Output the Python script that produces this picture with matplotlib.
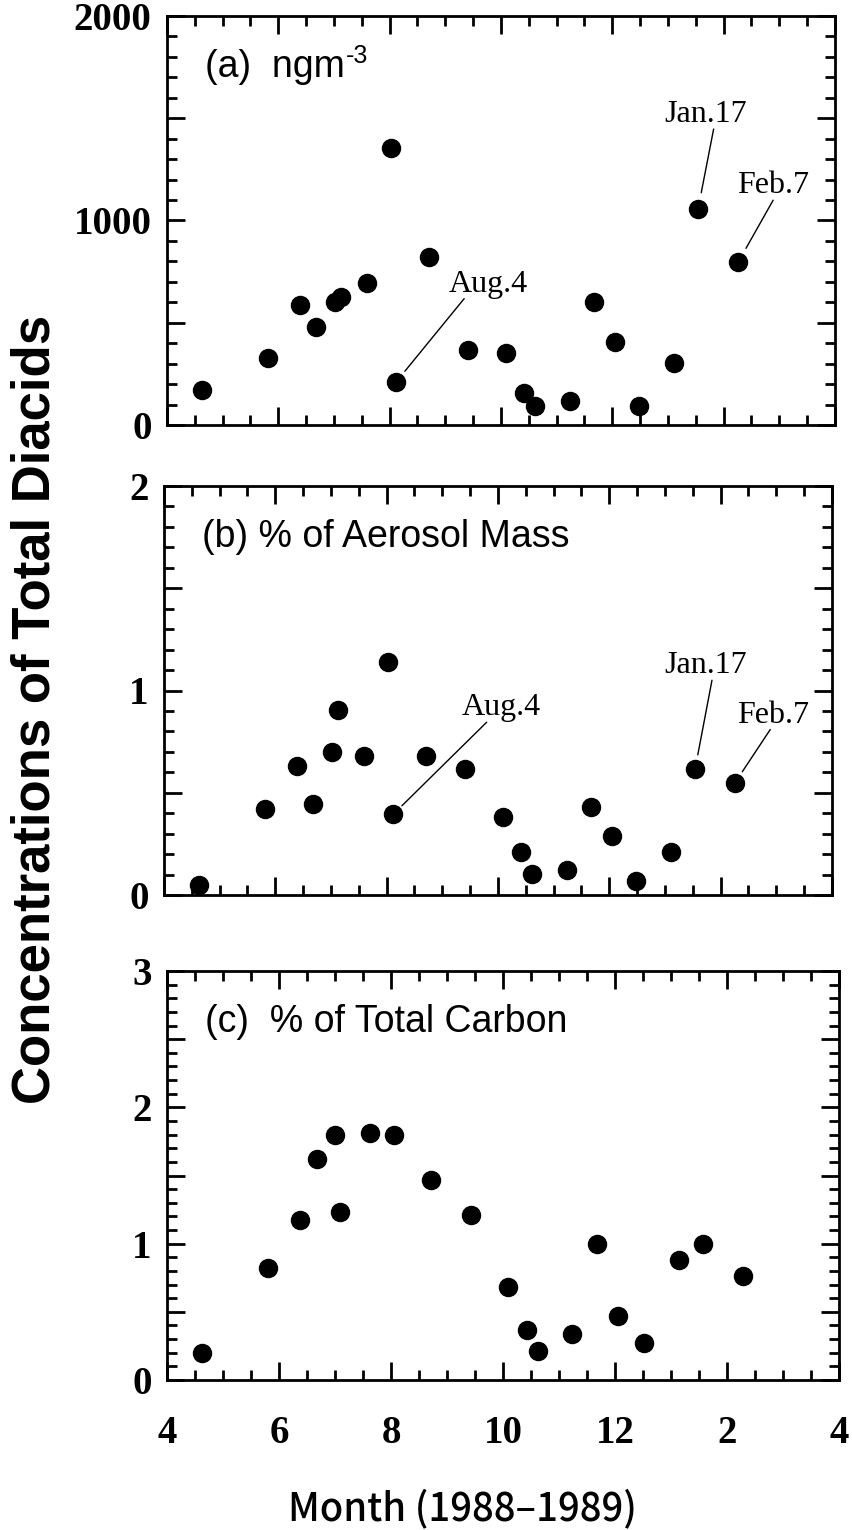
import matplotlib
matplotlib.use("Agg")
import matplotlib.pyplot as plt
from matplotlib.ticker import MultipleLocator, FixedLocator, FuncFormatter

# sampling dates as decimal month (13 = Jan 1989, 14 = Feb 1989)
months_ab = [4.62, 5.82, 6.39, 6.68, 7.02, 7.12, 7.60, 8.02, 8.12, 8.70, 9.41,
             10.09, 10.42, 10.61, 11.24, 11.67, 12.05, 12.48, 13.11, 13.54, 14.26]
total_ngm3 = [171, 326, 587, 481, 603, 627, 693, 1356, 212, 823, 367,
              354, 155, 93, 119, 600, 404, 93, 302, 1056, 796]
pct_aerosol = [0.05, 0.42, 0.63, 0.445, 0.70, 0.905, 0.68, 1.14, 0.395, 0.68, 0.615,
               0.383, 0.21, 0.105, 0.12, 0.43, 0.29, 0.07, 0.21, 0.615, 0.55]

months_c = [4.62, 5.81, 6.38, 6.67, 7.00, 7.09, 7.62, 8.05, 8.71, 9.43,
            10.09, 10.43, 10.62, 11.24, 11.67, 12.05, 12.52, 13.14, 13.57, 14.29]
pct_carbon = [0.195, 0.82, 1.17, 1.62, 1.80, 1.23, 1.815, 1.80, 1.465, 1.21,
              0.685, 0.37, 0.215, 0.335, 0.995, 0.47, 0.275, 0.88, 0.995, 0.76]

month_ticks = [4, 6, 8, 10, 12, 14, 16]
month_labels = ["4", "6", "8", "10", "12", "2", "4"]

# labelled samples: text and index into months_ab
event_names = ["Aug.4", "Jan.17", "Feb.7"]
event_index = [8, 19, 20]

plt.rcParams["font.family"] = "Liberation Serif"
plt.rcParams["font.weight"] = "bold"
plt.rcParams["font.size"] = 28

fig = plt.figure(figsize=(8.53, 15.30), dpi=100)
W, H = 853.0, 1530.0


def make_axes(left, top, right, bottom):
    # pixel box -> figure fraction
    return fig.add_axes([left / W, 1 - bottom / H, (right - left) / W, (bottom - top) / H])


def style_axes(ax, ymax, major, minor, label_step, show_x):
    ax.set_xlim(4, 16)
    ax.set_ylim(0, ymax)
    ax.xaxis.set_major_locator(FixedLocator(month_ticks))
    ax.xaxis.set_minor_locator(MultipleLocator(0.5))
    ax.yaxis.set_major_locator(MultipleLocator(major))
    ax.yaxis.set_minor_locator(MultipleLocator(minor))
    # only label whole steps (500s get a long tick but no number)
    ax.yaxis.set_major_formatter(FuncFormatter(
        lambda v, p: f"{v:g}" if abs(v / label_step - round(v / label_step)) < 1e-6 else ""))
    if show_x:
        ax.xaxis.set_major_formatter(FuncFormatter(
            lambda v, p: month_labels[month_ticks.index(int(round(v)))]))
    else:
        ax.set_xticklabels([])
    ax.tick_params(which="both", direction="in", top=True, right=True, width=2)
    ax.tick_params(which="major", length=13)
    ax.tick_params(which="minor", length=7)
    ax.tick_params(axis="y", which="major", pad=11)
    ax.tick_params(axis="x", which="major", pad=25)
    for sp in ax.spines.values():
        sp.set_linewidth(2)


def panel_label(ax, text):
    return ax.text(0.057, 0.851, text, transform=ax.transAxes, ha="left", va="baseline",
                   fontsize=27, fontweight="normal", family="Liberation Sans")


def annotate(ax, x, y, name, dx, dy, relx, shrink):
    ax.annotate(name, xy=(x, y), xytext=(dx, dy), textcoords="offset pixels",
                ha="left", va="baseline", fontsize=23, fontweight="normal",
                family="Liberation Serif",
                arrowprops=dict(arrowstyle="-", color="black", lw=1.0,
                                relpos=(relx, 0), patchA=None,
                                shrinkA=0, shrinkB=shrink))


ax_a = make_axes(167, 16, 835, 425)
ax_b = make_axes(164, 486, 832, 895)
ax_c = make_axes(167, 971, 839, 1380)

# (a) absolute concentrations
style_axes(ax_a, 2000, 500, 100, 1000, False)
ax_a.plot(months_ab, total_ngm3, "o", color="black", markersize=13, linestyle="none")
label_a = panel_label(ax_a, "(a)  ngm")
offsets_a = [(52, 90, 0.2, 9.7), (-34, 87, 0.6, 12), (-1, 69, 0.5, 11.5)]
for name, i, (dx, dy, rx, sb) in zip(event_names, event_index, offsets_a):
    annotate(ax_a, months_ab[i], total_ngm3[i], name, dx, dy, rx, sb)

# superscript "-3" right after "ngm"
fig.canvas.draw()
bb = label_a.get_window_extent()
fig.text((bb.x1 + 1) / W, (bb.y0 + bb.height * 0.62) / H, "-3", ha="left", va="baseline",
         fontsize=18, fontweight="normal", family="Liberation Sans")

# (b) fraction of aerosol mass
style_axes(ax_b, 2, 0.5, 0.1, 1, False)
ax_b.plot(months_ab, pct_aerosol, "o", color="black", markersize=13, linestyle="none")
panel_label(ax_b, "(b) % of Aerosol Mass")
offsets_b = [(68, 99, 0.32, 8.7), (-31, 96, 0.58, 10.5), (2, 60, 0.46, 9.3)]
for name, i, (dx, dy, rx, sb) in zip(event_names, event_index, offsets_b):
    annotate(ax_b, months_ab[i], pct_aerosol[i], name, dx, dy, rx, sb)

# (c) fraction of total carbon
style_axes(ax_c, 3, 0.5, 0.1, 1, True)
ax_c.plot(months_c, pct_carbon, "o", color="black", markersize=13, linestyle="none")
panel_label(ax_c, "(c)  % of Total Carbon")

fig.text(36 / W, 1 - 709 / H, "Concentrations of Total Diacids", rotation=90,
         ha="center", va="center", fontsize=38, fontweight="bold", family="Liberation Sans")
fig.text(462 / W, 1 - 1520 / H, "Month (1988\u20131989)", ha="center", va="baseline",
         fontsize=27.5, fontweight="medium", family=["Noto Sans CJK JP", "DejaVu Sans"])

plt.savefig("out.png", dpi=100)
